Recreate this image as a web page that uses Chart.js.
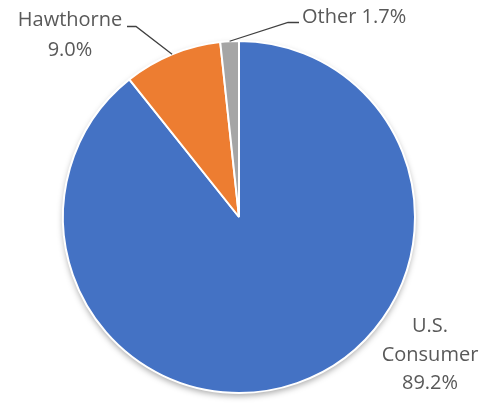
<!DOCTYPE html>
<html lang="en">
  <head>
    <meta charset="UTF-8" />
    <title>Pie</title>
    <style>
      html, body { margin: 0; padding: 0; background: #fff; }
    </style>
  </head>
  <body>
    <canvas id="myChart" width="496" height="403"></canvas>
    <script src="https://cdn.jsdelivr.net/npm/chart.js"></script>
    <script>
        const categories = ["U.S. Consumer", "Hawthorne", "Other"];
        const shares = [89.2, 9.0, 1.7];
        const sliceLabels = [["U.S.", "Consumer", "89.2%"], ["Hawthorne", "9.0%"], ["Other 1.7%"]];
        const colors = ["#4472C4", "#ED7D31", "#A5A5A5"];

        const FONT = "20px 'Open Sans', sans-serif";
        const TEXT = "#595959";

        // soft shadow under the pie
        const pieShadow = {
            id: 'pieShadow',
            beforeDatasetsDraw(chart) {
                const arc = chart.getDatasetMeta(0).data[0];
                const ctx = chart.ctx;
                ctx.save();
                ctx.shadowColor = 'rgba(0,0,0,0.35)';
                ctx.shadowBlur = 6;
                ctx.shadowOffsetY = 3;
                ctx.fillStyle = '#fff';
                ctx.beginPath();
                ctx.arc(arc.x, arc.y, arc.outerRadius, 0, Math.PI * 2);
                ctx.fill();
                ctx.restore();
            }
        };

        // point on the outer edge at the middle of a slice
        function edgePoint(arc) {
            const mid = (arc.startAngle + arc.endAngle) / 2;
            return {x: arc.x + Math.cos(mid) * arc.outerRadius, y: arc.y + Math.sin(mid) * arc.outerRadius};
        }

        const pieLabels = {
            id: 'pieLabels',
            afterDatasetsDraw(chart) {
                const ctx = chart.ctx;
                const arcs = chart.getDatasetMeta(0).data;
                ctx.save();
                ctx.font = FONT;
                ctx.fillStyle = TEXT;
                ctx.textAlign = 'center';
                ctx.textBaseline = 'alphabetic';

                // U.S. Consumer, outside lower right
                sliceLabels[0].forEach((t, i) => ctx.fillText(t, 430, 332 + i * 28.5));

                // Hawthorne with leader line
                sliceLabels[1].forEach((t, i) => ctx.fillText(t, 70, 26 + i * 30));
                ctx.strokeStyle = '#404040';
                ctx.lineWidth = 1.3;
                let p = edgePoint(arcs[1]);
                ctx.beginPath();
                ctx.moveTo(127, 26.5);
                ctx.lineTo(136, 26.5);
                ctx.lineTo(p.x, p.y);
                ctx.stroke();

                // Other with leader line
                ctx.textAlign = 'left';
                ctx.fillText(sliceLabels[2][0], 302, 23);
                p = edgePoint(arcs[2]);
                ctx.beginPath();
                ctx.moveTo(299, 22.5);
                ctx.lineTo(288, 22.5);
                ctx.lineTo(p.x, p.y);
                ctx.stroke();
                ctx.restore();
            }
        };

        const data = {
            labels: categories,
            datasets: [{
                data: shares,
                backgroundColor: colors,
                borderColor: '#ffffff',
                borderWidth: 2
            }]
        };

        const config = {
            type: 'pie',
            data: data,
            plugins: [pieShadow, pieLabels],
            options: {
                responsive: false,
                animation: false,
                layout: {
                    padding: {left: 62, right: 80, top: 40, bottom: 9}
                },
                plugins: {
                    legend: {display: false},
                    tooltip: {enabled: false}
                }
            }
        };

        const myChart = new Chart(document.getElementById('myChart'), config);
    </script>
  </body>
</html>
